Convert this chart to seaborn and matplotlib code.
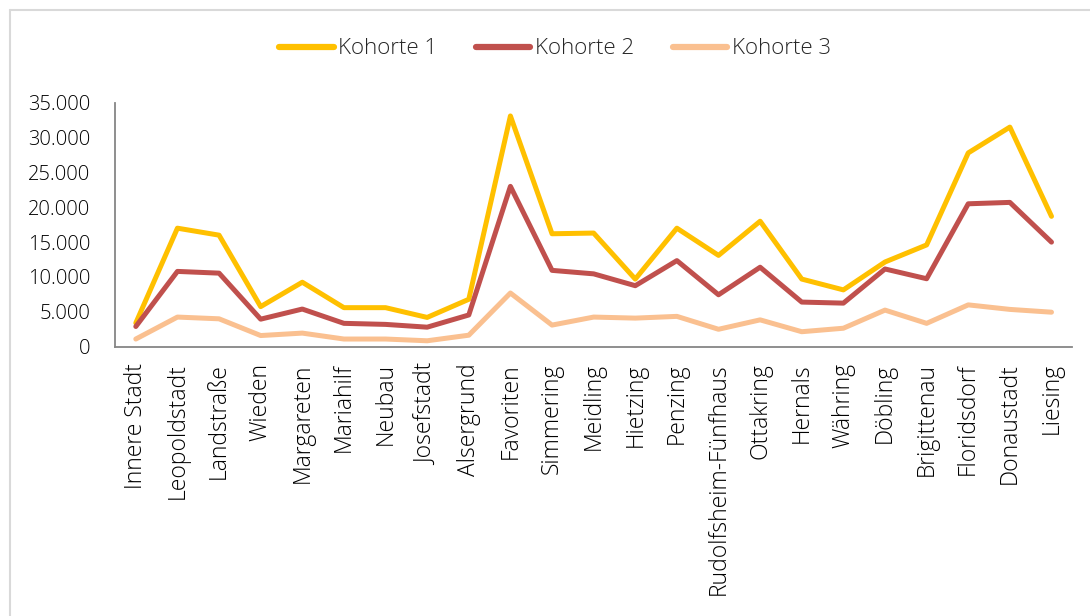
import numpy as np
import pandas as pd
import seaborn as sns
import matplotlib.pyplot as plt
from matplotlib.ticker import FuncFormatter, FixedLocator
from matplotlib.lines import Line2D

# Districts of Vienna (x categories)
bezirke = ["Innere Stadt", "Leopoldstadt", "Landstraße", "Wieden", "Margareten",
           "Mariahilf", "Neubau", "Josefstadt", "Alsergrund", "Favoriten",
           "Simmering", "Meidling", "Hietzing", "Penzing", "Rudolfsheim-Fünfhaus",
           "Ottakring", "Hernals", "Währing", "Döbling", "Brigittenau",
           "Floridsdorf", "Donaustadt", "Liesing"]

# Values
kohorte_1 = [3400, 17000, 16000, 5750, 9250, 5600, 5600, 4200, 6800, 33100,
             16200, 16300, 9700, 17000, 13100, 18000, 9700, 8150, 12150, 14600,
             27800, 31500, 18700]
kohorte_2 = [2900, 10800, 10550, 3950, 5400, 3350, 3200, 2800, 4550, 23000,
             10950, 10450, 8750, 12350, 7450, 11400, 6400, 6250, 11150, 9750,
             20500, 20700, 15000]
kohorte_3 = [1100, 4250, 4000, 1600, 1950, 1100, 1100, 850, 1650, 7700,
             3100, 4250, 4100, 4350, 2500, 3850, 2150, 2650, 5250, 3350,
             6000, 5350, 4950]

serien = ["Kohorte 1", "Kohorte 2", "Kohorte 3"]
farben = ["#FFC000", "#C0504D", "#FAC090"]

df = pd.DataFrame({
    "pos": list(range(len(bezirke))) * 3,
    "Bezirk": bezirke * 3,
    "Anzahl": kohorte_1 + kohorte_2 + kohorte_3,
    "Kohorte": [s for s in serien for _ in bezirke],
})

sns.set_style("white")
plt.rcParams["font.family"] = ["Open Sans", "DejaVu Sans"]
plt.rcParams["font.weight"] = "light"

fig = plt.figure(figsize=(10.9, 6.16), dpi=100)
ax = fig.add_axes([115 / 1090, 1 - 346.7 / 616, (1072.3 - 115) / 1090, 244 / 616])

sns.lineplot(data=df, x="pos", y="Anzahl", hue="Kohorte", hue_order=serien,
             palette=farben, linewidth=3.6, ax=ax, legend=False, sort=False,
             solid_joinstyle="round", solid_capstyle="round")

ax.set_xlim(-0.5, len(bezirke) - 0.5)
ax.set_ylim(0, 35000)
ax.set_yticks(np.arange(0, 35001, 5000))
ax.yaxis.set_major_formatter(FuncFormatter(lambda v, p: f"{int(v):,}".replace(",", ".")))
ax.set_xticks(range(len(bezirke)))
ax.set_xticklabels(bezirke, rotation=90, fontsize=16.5, color="#000000")
ax.xaxis.set_minor_locator(FixedLocator(np.arange(-0.5, len(bezirke), 1)))
ax.tick_params(axis="x", which="major", length=0, pad=12)
ax.tick_params(axis="x", which="minor", length=7, width=1.3, color="#868686",
               direction="out")
ax.tick_params(axis="y", length=7, width=1.3, color="#868686", direction="out",
               labelsize=14.5, pad=11, labelcolor="#000000")
ax.set_xlabel("")
ax.set_ylabel("")
for s in ["top", "right"]:
    ax.spines[s].set_visible(False)
for s in ["left", "bottom"]:
    ax.spines[s].set_color("#868686")
    ax.spines[s].set_linewidth(1.3)

handles = [Line2D([], [], color=c, linewidth=4.5, solid_capstyle="round") for c in farben]
fig.legend(handles, serien, loc="center", bbox_to_anchor=(555 / 1090, 1 - 49 / 616),
           ncol=3, frameon=False, fontsize=16, handlelength=2.45,
           handletextpad=0.2, columnspacing=1.75)

# light outer chart frame (left and top edges visible)
fig.add_artist(Line2D([9.5 / 1090, 9.5 / 1090], [0, 1 - 10 / 616], color="#D9D9D9",
                      linewidth=1.5, transform=fig.transFigure))
fig.add_artist(Line2D([9.5 / 1090, 1], [1 - 10 / 616, 1 - 10 / 616], color="#D9D9D9",
                      linewidth=1.5, transform=fig.transFigure))

fig.savefig("out.png", dpi=100)
